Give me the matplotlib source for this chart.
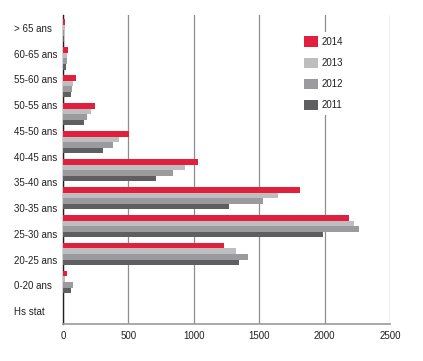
import matplotlib
matplotlib.use('Agg')
import matplotlib.pyplot as plt
import numpy as np

plt.rcParams['font.family'] = ['Liberation Sans Narrow', 'Liberation Sans', 'DejaVu Sans']

categories = ['> 65 ans', '60-65 ans', '55-60 ans', '50-55 ans', '45-50 ans', '40-45 ans',
              '35-40 ans', '30-35 ans', '25-30 ans', '20-25 ans', '0-20 ans', 'Hs stat']
years = ['2014', '2013', '2012', '2011']
# one value per bar group, top to bottom, as drawn in the source
v2014 = [15, 36, 97, 245, 508, 1031, 1812, 2187, 1230, 33]
v2013 = [12, 31, 74, 212, 426, 934, 1644, 2225, 1325, 13]
v2012 = [8, 30, 69, 181, 380, 842, 1531, 2264, 1417, 77]
v2011 = [5, 23, 61, 161, 304, 710, 1271, 1991, 1348, 61]
xticks = [0, 500, 1000, 1500, 2000, 2500]

colors = ['#e0203c', '#bebec0', '#9b9b9d', '#5f5f61']
txt = '#231f20'

fig = plt.figure(figsize=(4.23, 3.61), dpi=100)
ax = fig.add_axes([63 / 423, 37 / 361, 327 / 423, 309 / 361])

series = [v2014, v2013, v2012, v2011]
pos = np.arange(len(v2014))
h = 0.2
for i, (vals, yr) in enumerate(zip(series, years)):
    ax.barh(pos + (i - 1.5) * h, vals, height=h, color=colors[i], label=yr, zorder=3)

ax.set_xlim(0, 2500)
ax.set_ylim(10.5, -0.55)
ax.set_yticks([])
ax.set_xticks(xticks)
ax.set_xticklabels([str(t) for t in xticks], fontsize=7, color=txt)
ax.tick_params(axis='x', length=0, pad=5)
ax.grid(axis='x', color='#8e8e8e', linewidth=0.9, zorder=0)
for s in ['top', 'right']:
    ax.spines[s].set_visible(False)
ax.spines['left'].set_color('#231f20')
ax.spines['left'].set_linewidth(1.0)
ax.spines['bottom'].set_color('#9a9a9a')
ax.spines['bottom'].set_linewidth(1.2)

# category labels sit on their own evenly spaced scale
ax2 = ax.twinx()
ax2.set_ylim(len(categories) - 0.5, -0.5)
ax2.set_yticks(np.arange(len(categories)))
ax2.set_yticklabels(categories, fontsize=7, color=txt, ha='left')
ax2.yaxis.tick_left()
ax2.tick_params(axis='y', length=0, pad=35)
for s in ax2.spines.values():
    s.set_visible(False)

leg = ax.legend(loc='upper left', bbox_to_anchor=(0.706, 0.962), fontsize=7,
                frameon=True, fancybox=False, framealpha=1, edgecolor='none',
                facecolor='white', handlelength=1.45, handleheight=1.25,
                labelspacing=1.1, handletextpad=0.45, borderpad=0.5)
for t in leg.get_texts():
    t.set_color(txt)

fig.savefig('out.png', dpi=100)
